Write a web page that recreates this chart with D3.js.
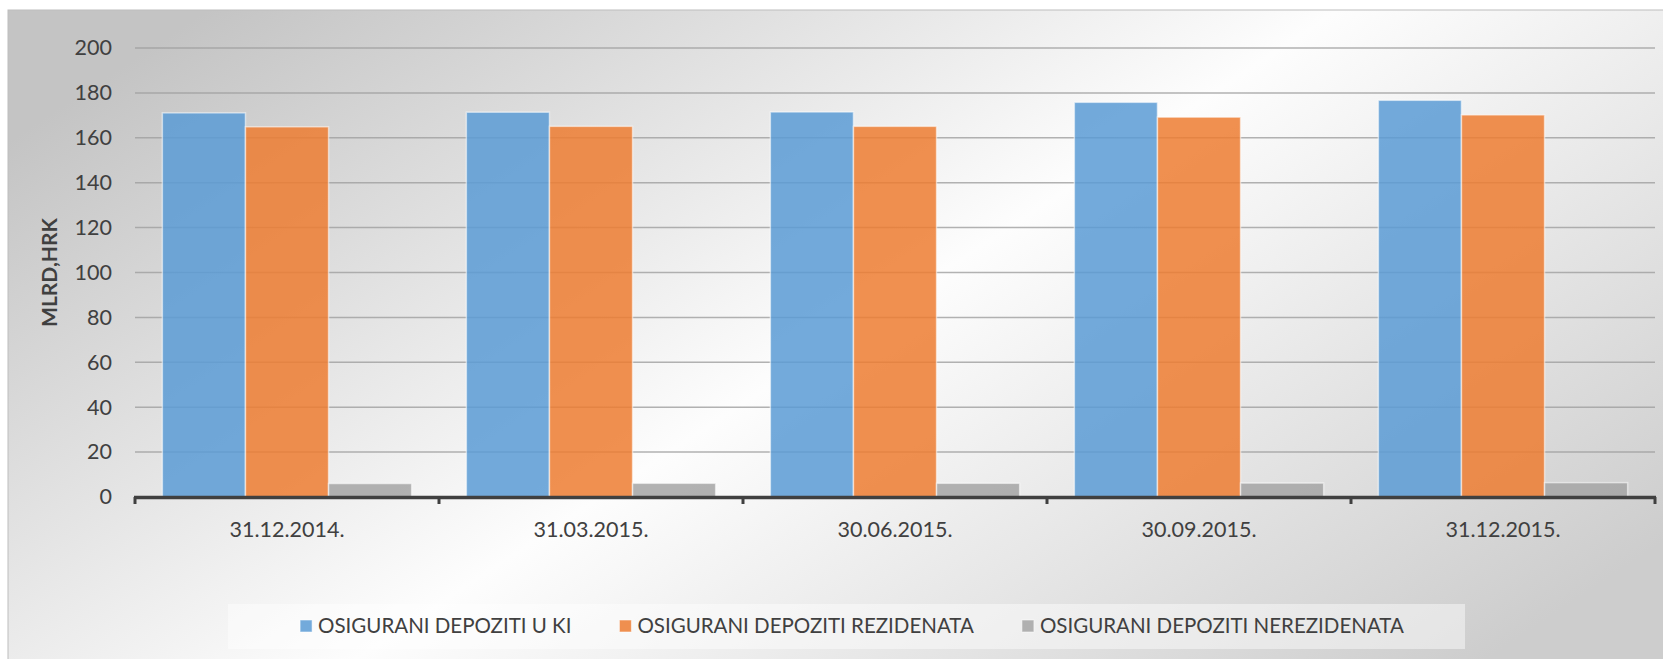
<!DOCTYPE html>
<html>
<head>
<meta charset="utf-8">
<script src="https://cdn.jsdelivr.net/npm/d3@7"></script>
<style>
    html, body { margin: 0; padding: 0; background: #ffffff; }
    svg { display: block; font-family: Lato, "Open Sans", sans-serif; }
</style>
</head>
<body>
<svg id="chart" width="1663" height="659"></svg>
<script>
// osigurani depoziti, mlrd hrk
var datumi = ["31.12.2014.", "31.03.2015.", "30.06.2015.", "30.09.2015.", "31.12.2015."];
var depozitiUKI = [171.1, 171.4, 171.5, 175.8, 176.7];
var depozitiRezidenata = [164.9, 165.1, 165.1, 169.2, 170.2];
var depozitiNerezidenata = [6.0, 6.1, 6.1, 6.2, 6.4];
var serije = ["OSIGURANI DEPOZITI U KI", "OSIGURANI DEPOZITI REZIDENATA", "OSIGURANI DEPOZITI NEREZIDENATA"];
var boje = ["#5b9bd5", "#ed7d31", "#a5a5a5"];
var yTicks = [0, 20, 40, 60, 80, 100, 120, 140, 160, 180, 200];

var W = 1663, H = 659;
var plot = { left: 135, right: 1655, top: 48, bottom: 497 };

function drawChart() {
    var svg = d3.select("#chart");
    var defs = svg.append("defs");

    // excel style gray-white-gray background
    var grad = defs.append("linearGradient")
        .attr("id", "bg")
        .attr("x1", "0").attr("y1", "0.2")
        .attr("x2", "1").attr("y2", "0.8");
    grad.append("stop").attr("offset", "0").attr("stop-color", "#c4c4c4");
    grad.append("stop").attr("offset", "0.5").attr("stop-color", "#fdfdfd");
    grad.append("stop").attr("offset", "1").attr("stop-color", "#cdcdcd");

    svg.append("rect")
        .attr("x", 8).attr("y", 10)
        .attr("width", W).attr("height", H)
        .attr("fill", "url(#bg)")
        .attr("stroke", "#bdbdbd")
        .attr("stroke-width", 1);

    var x0 = d3.scaleBand()
        .domain(datumi)
        .range([plot.left, plot.right])
        .paddingInner(0.18)
        .paddingOuter(0.09);
    var x1 = d3.scaleBand()
        .domain(d3.range(serije.length))
        .range([0, x0.bandwidth()]);
    var y = d3.scaleLinear()
        .domain([0, 200])
        .range([plot.bottom, plot.top]);

    // grid
    svg.append("g")
        .selectAll("line")
        .data(yTicks.filter(function (t) { return t > 0; }))
        .join("line")
        .attr("x1", plot.left).attr("x2", plot.right)
        .attr("y1", function (d) { return y(d); })
        .attr("y2", function (d) { return y(d); })
        .attr("stroke", "#9f9f9f")
        .attr("stroke-opacity", 0.8)
        .attr("stroke-width", 1.5);

    // y axis labels, no line
    var yAxis = svg.append("g")
        .attr("transform", "translate(" + plot.left + ",0)")
        .call(d3.axisLeft(y).tickValues(yTicks).tickSize(0).tickPadding(23));
    yAxis.select(".domain").remove();
    yAxis.selectAll("text")
        .attr("font-size", 21.5)
        .attr("fill", "#404040")
        .attr("font-family", "Lato, sans-serif");

    // bars
    var sveSerije = [depozitiUKI, depozitiRezidenata, depozitiNerezidenata];
    var rows = datumi.map(function (d, i) {
        return sveSerije.map(function (s, k) { return { datum: d, k: k, v: s[i] }; });
    });
    svg.append("g")
        .selectAll("g")
        .data(rows)
        .join("g")
        .attr("transform", function (r) { return "translate(" + x0(r[0].datum) + ",0)"; })
        .selectAll("rect")
        .data(function (r) { return r; })
        .join("rect")
        .attr("x", function (d) { return x1(d.k); })
        .attr("y", function (d) { return y(d.v); })
        .attr("width", x1.bandwidth())
        .attr("height", function (d) { return y(0) - y(d.v); })
        .attr("fill", function (d) { return boje[d.k]; })
        .attr("fill-opacity", 0.85)
        .attr("stroke", "#ffffff")
        .attr("stroke-opacity", 0.55)
        .attr("stroke-width", 1.5);

    // x axis, thick dark line with ticks between categories
    svg.append("line")
        .attr("x1", plot.left - 1).attr("x2", plot.right + 1)
        .attr("y1", y(0) + 0.5).attr("y2", y(0) + 0.5)
        .attr("stroke", "#404040")
        .attr("stroke-width", 3.5);
    var granice = datumi.map(function (d) { return x0(d) - x0.step() * x0.paddingOuter(); });
    granice.push(plot.right);
    svg.append("g")
        .selectAll("line")
        .data(granice)
        .join("line")
        .attr("x1", function (d) { return d; })
        .attr("x2", function (d) { return d; })
        .attr("y1", y(0))
        .attr("y2", y(0) + 7)
        .attr("stroke", "#404040")
        .attr("stroke-width", 3);

    svg.append("g")
        .selectAll("text")
        .data(datumi)
        .join("text")
        .attr("x", function (d) { return x0(d) + x0.bandwidth() / 2; })
        .attr("y", 537)
        .attr("text-anchor", "middle")
        .attr("font-size", 21.5)
        .attr("fill", "#404040")
        .text(function (d) { return d; });

    // y axis title
    svg.append("text")
        .attr("transform", "translate(57," + ((plot.top + plot.bottom) / 2) + ") rotate(-90)")
        .attr("text-anchor", "middle")
        .attr("font-size", 21)
        .attr("font-weight", "bold")
        .attr("fill", "#404040")
        .text("MLRD,HRK");

    // legend
    svg.append("rect")
        .attr("x", 228).attr("y", 604)
        .attr("width", 1237).attr("height", 45)
        .attr("fill", "#ffffff")
        .attr("fill-opacity", 0.45);

    var leg = svg.append("g");
    var items = leg.selectAll("g")
        .data(serije)
        .join("g");
    items.append("rect")
        .attr("width", 12).attr("height", 12)
        .attr("y", -6)
        .attr("fill", function (d, i) { return boje[i]; })
        .attr("fill-opacity", 0.85)
        .attr("stroke", "#ffffff")
        .attr("stroke-opacity", 0.55);
    items.append("text")
        .attr("x", 18)
        .attr("dy", "0.35em")
        .attr("font-size", 20.5)
        .attr("fill", "#404040")
        .text(function (d) { return d; });

    // place legend entries one after another, centered in the box
    var pos = 0, sirine = [];
    items.each(function () {
        var w = 18 + d3.select(this).select("text").node().getComputedTextLength();
        sirine.push(pos);
        pos += w + 48;
    });
    var ukupno = pos - 48;
    var start = 852 - ukupno / 2;
    items.attr("transform", function (d, i) { return "translate(" + (start + sirine[i]) + ",626)"; });
}

window.onload = drawChart;
</script>
</body>
</html>
